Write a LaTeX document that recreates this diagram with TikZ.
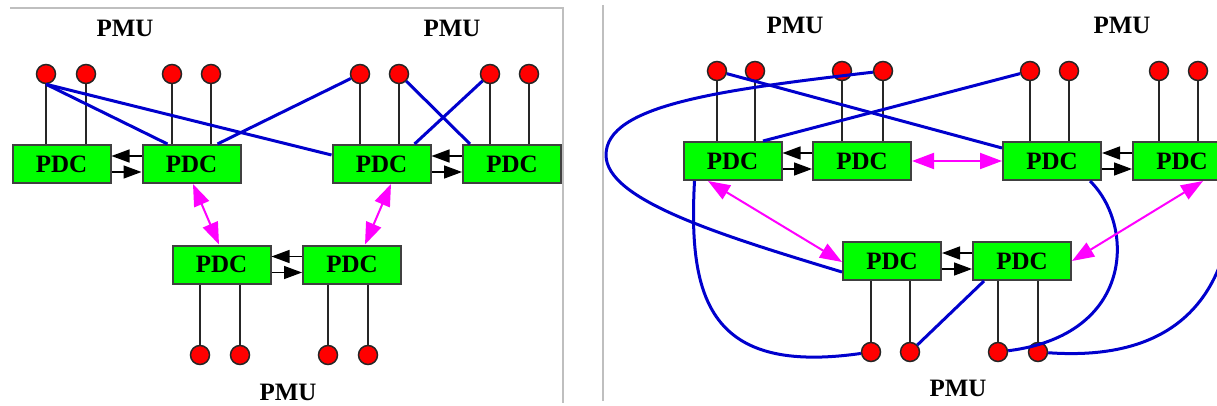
\documentclass[tikz,border=0pt]{standalone}
\usepackage{fontspec}
\setmainfont{Liberation Serif}
\usetikzlibrary{arrows.meta}

\definecolor{boxgreen}{RGB}{0,255,0}
\definecolor{linkblue}{RGB}{0,0,205}
\definecolor{peermag}{RGB}{255,0,255}

\tikzset{
  pdc/.style={draw=black!75, line width=2pt, fill=boxgreen, minimum width=98pt,
    minimum height=38pt, inner sep=0pt, font=\fontsize{25}{25}\selectfont\bfseries},
  pmu/.style={circle, draw=black!85, line width=1.5pt, fill=red, minimum size=19pt, inner sep=0pt},
  lbl/.style={font=\fontsize{25}{25}\selectfont\bfseries},
  feed/.style={black!85, line width=1.5pt},
  link/.style={linkblue, line width=3pt},
  peer/.style={peermag, line width=2pt, {Triangle[length=22pt,width=16pt]}-{Triangle[length=22pt,width=16pt]}},
  sync/.style={black, line width=1.5pt, -{Triangle[length=18pt,width=13pt]}},
  frame/.style={black!25, line width=1.2pt}
}

\begin{document}
\begin{tikzpicture}[x=1pt,y=-1pt]
    \clip (0,0) rectangle (1217,406);

    % Frames
    \draw[frame] (10,8) -- (563,8) -- (563,403);
    \draw[frame] (603,5) -- (603,401);

    % Left: PDC boxes
    \node[pdc] (L1) at (61.5,164) {PDC};
    \node[pdc] (L2) at (191.5,164) {PDC};
    \node[pdc] (L3) at (381.5,164) {PDC};
    \node[pdc] (L4) at (512,164) {PDC};
    \node[pdc] (L5) at (221.5,264.5) {PDC};
    \node[pdc] (L6) at (352,264.5) {PDC};

    % Left: PMUs
    \foreach \x [count=\i] in {46,86,172,211,360,399,490,529}
        \node[pmu] (lt\i) at (\x,74) {};
    \foreach \x [count=\i] in {200,240,328,368}
        \node[pmu] (lb\i) at (\x,355) {};
    \node[lbl] (lp1) at (125,28) {PMU};
    \node[lbl] (lp2) at (452,28) {PMU};
    \node[lbl] (lp3) at (288,392) {PMU};

    % Right: PDC boxes
    \node[pdc] (R1) at (732.5,161) {PDC};
    \node[pdc] (R2) at (862,161) {PDC};
    \node[pdc] (R3) at (1052,161) {PDC};
    \node[pdc] (R4) at (1182,161) {PDC};
    \node[pdc] (R5) at (892,261) {PDC};
    \node[pdc] (R6) at (1022,261) {PDC};

    % Right: PMUs
    \foreach \x [count=\i] in {717,755,842,883,1030,1069,1159,1198}
        \node[pmu] (rt\i) at (\x,71) {};
    \foreach \x [count=\i] in {871,910,998,1038}
        \node[pmu] (rb\i) at (\x,352) {};
    \node[lbl] (rp1) at (795,25) {PMU};
    \node[lbl] (rp2) at (1122,25) {PMU};
    \node[lbl] (rp3) at (958,388) {PMU};

    % Feeders
    \foreach \i/\b in {1/L1,2/L1,3/L2,4/L2,5/L3,6/L3,7/L4,8/L4}
        \draw[feed] (lt\i) -- (lt\i |- \b.north);
    \foreach \i/\b in {1/L5,2/L5,3/L6,4/L6}
        \draw[feed] (lb\i) -- (lb\i |- \b.south);
    \foreach \i/\b in {1/R1,2/R1,3/R2,4/R2,5/R3,6/R3,7/R4,8/R4}
        \draw[feed] (rt\i) -- (rt\i |- \b.north);
    \foreach \i/\b in {1/R5,2/R5,3/R6,4/R6}
        \draw[feed] (rb\i) -- (rb\i |- \b.south);

    % Neighbour exchange
    \foreach \a/\b in {L1/L2,L3/L4,L5/L6,R1/R2,R3/R4,R5/R6}{
        \draw[sync] ([yshift=8pt]\b.west) -- ([yshift=8pt]\a.east);
        \draw[sync] ([yshift=-8pt]\a.east) -- ([yshift=-8pt]\b.west);
    }

    % Left: cross links
    \draw[link] (lt1.south) -- ([xshift=26pt]L2.north west);
    \draw[link] (lt1.south) -- ([yshift=9pt]L3.west);
    \draw[link] ([xshift=26pt]L2.north) -- (lt5);
    \draw[link] (lt6) -- ([xshift=8pt]L4.north west);
    \draw[link] ([xshift=33pt]L3.north) -- (lt7);

    % Left: peer links
    \draw[peer] ([xshift=1.5pt]L2.south) -- ([xshift=-2.5pt]L5.north);
    \draw[peer] ([xshift=9.5pt]L3.south) -- ([xshift=13pt]L6.north);

    % Right: cross links
    \draw[link] (rt1) -- ([yshift=13pt]R3.west);
    \draw[link] ([xshift=30.5pt]R1.north) -- (rt5);
    \draw[link] (rt4) .. controls (720,90) and (606,105) .. (606,155)
        .. controls (606,200) and (720,235) .. ([yshift=-11pt]R5.west);
    \draw[link] ([xshift=-38pt]R1.south) .. controls (688,300) and (710,375) .. (rb1);
    \draw[link] ([xshift=-38pt]R6.south) -- (rb2);
    \draw[link] ([xshift=38pt]R3.south) .. controls (1135,225) and (1135,335) .. (rb3);
    \draw[link] (rb4) .. controls (1150,360) and (1205,320) .. (1225,250)
        .. controls (1240,200) and (1245,175) .. (R4.east);

    % Right: peer links
    \draw[peer] (R2) -- (R3);
    \draw[peer] ([xshift=-24.5pt]R1.south) -- ([yshift=-1pt]R5.west);
    \draw[peer] ([xshift=21pt]R4.south) -- (R6.east);
\end{tikzpicture}
\end{document}
